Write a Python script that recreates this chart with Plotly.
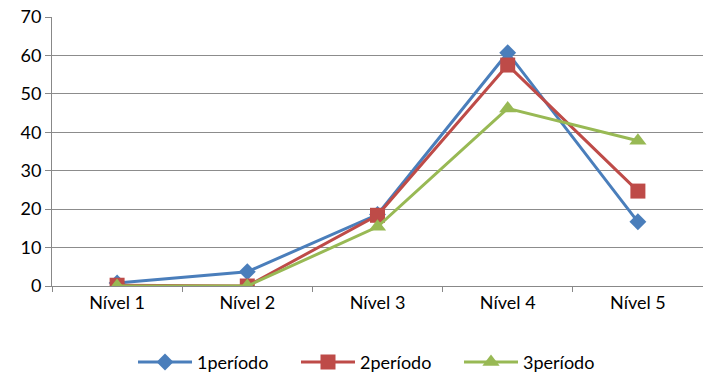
import plotly.graph_objects as go

niveis = ["Nível 1", "Nível 2", "Nível 3", "Nível 4", "Nível 5"]
periodo1 = [0.8, 3.7, 18.6, 60.7, 16.7]
periodo2 = [0.2, 0.0, 18.4, 57.5, 24.7]
periodo3 = [0.0, 0.0, 15.4, 46.2, 37.8]

series = [
    ("1período", periodo1, "#4a7ebb", "diamond", 13),
    ("2período", periodo2, "#be4b48", "square", 15),
    ("3período", periodo3, "#98b954", "triangle-up", 15),
]

fig = go.Figure()

for name, vals, color, symbol, size in series:
    fig.add_trace(
        go.Scatter(
            x=niveis,
            y=vals,
            name=name,
            mode="lines+markers",
            line=dict(color=color, width=3),
            marker=dict(symbol=symbol, size=size, color=color),
        )
    )

fig.update_layout(
    width=703,
    height=375,
    margin=dict(l=52, r=0, t=17, b=89, autoexpand=False),
    paper_bgcolor="white",
    plot_bgcolor="white",
    font=dict(family="Lato, Open Sans, sans-serif", size=18, color="#000000"),
    showlegend=True,
    legend=dict(
        orientation="h",
        x=0.5,
        xanchor="center",
        y=-0.215,
        yanchor="top",
        font=dict(size=18),
        itemwidth=54,
        entrywidth=94,
    ),
    xaxis=dict(
        showgrid=False,
        showline=True,
        linecolor="#888888",
        ticks="outside",
        tickson="boundaries",
        tickcolor="#888888",
        ticklen=5,
        range=[-0.5, 4.5],
        automargin=False,
    ),
    yaxis=dict(
        range=[0, 70],
        dtick=10,
        showgrid=True,
        gridcolor="#8c8c8c",
        gridwidth=1,
        zeroline=False,
        showline=True,
        linecolor="#888888",
        ticks="outside",
        tickcolor="#888888",
        ticklen=6,
        automargin=False,
    ),
)

# drop the default 8px body margin so the figure fills the window
fig.write_html(
    "out.html",
    config={"displayModeBar": False},
    post_script="document.body.style.margin='0';",
)
